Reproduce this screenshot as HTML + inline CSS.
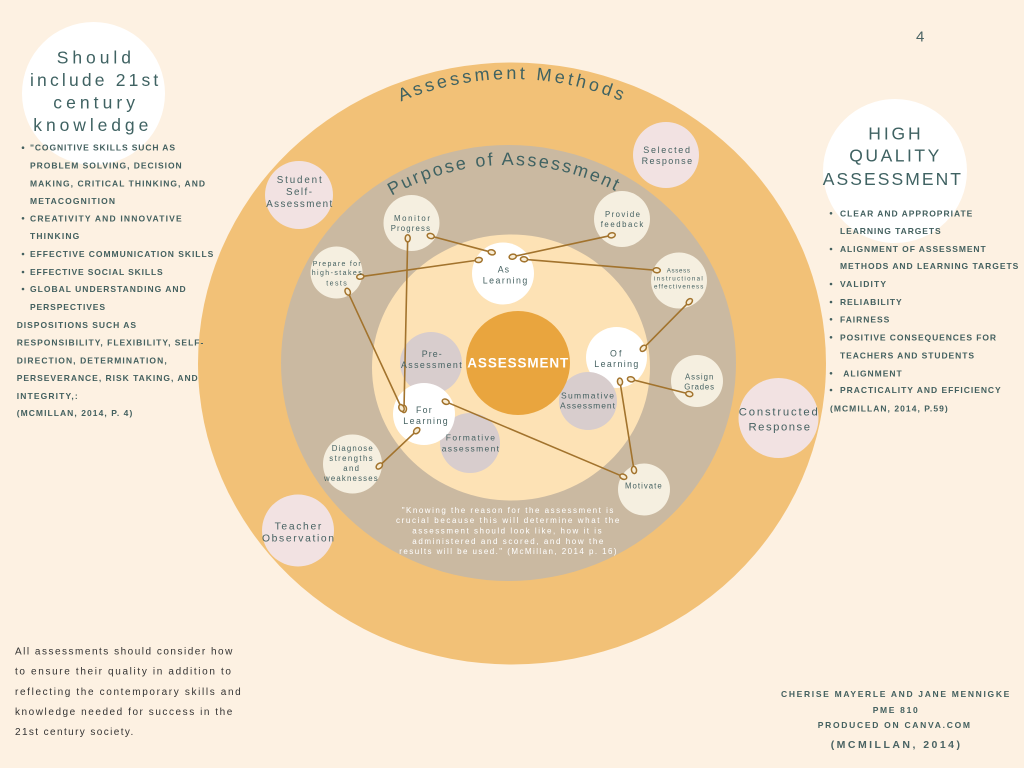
<!DOCTYPE html>
<html>
<head>
<meta charset="utf-8">
<style>
html,body{margin:0;padding:0;background:#fdf1e2;}
svg{display:block;}
text{font-family:"Liberation Sans",sans-serif;}
.l{font-size:8.5px;font-weight:bold;fill:#43605f;}
.n{fill:#466262;}
</style>
</head>
<body>
<svg width="1024" height="768" viewBox="0 0 1024 768" xmlns="http://www.w3.org/2000/svg">
<rect width="1024" height="768" fill="#fdf1e2"/>

<!-- big rings -->
<ellipse cx="512" cy="363.5" rx="314" ry="301" fill="#f2c177"/>
<ellipse cx="508.5" cy="363" rx="227.5" ry="218" fill="#cab9a1"/>
<ellipse cx="511" cy="367.5" rx="139" ry="133" fill="#fde2b5"/>

<!-- header circles -->
<circle cx="93.5" cy="93.5" r="71.5" fill="#ffffff"/>
<circle cx="895" cy="171" r="72" fill="#ffffff"/>

<!-- pink method circles -->
<circle cx="666" cy="155" r="33" fill="#f2e2e2"/>
<circle cx="299" cy="195" r="34" fill="#f2e2e2"/>
<circle cx="298" cy="530.5" r="36" fill="#f2e2e2"/>
<circle cx="778.5" cy="418" r="40" fill="#f2e2e2"/>

<!-- cream purpose circles -->
<circle cx="411.5" cy="223" r="28" fill="#f5efe0"/>
<circle cx="622" cy="219" r="28" fill="#f5efe0"/>
<circle cx="336.5" cy="272.5" r="26" fill="#f5efe0"/>
<circle cx="679" cy="280.5" r="28" fill="#f5efe0"/>
<circle cx="697" cy="381" r="26" fill="#f5efe0"/>
<circle cx="352.5" cy="464" r="29.5" fill="#f5efe0"/>
<circle cx="644" cy="489.5" r="26" fill="#f5efe0"/>

<!-- inner circles -->
<circle cx="431" cy="363" r="31" fill="#d8cdcd"/>
<circle cx="470" cy="443" r="30" fill="#d8cdcd"/>
<circle cx="424" cy="414" r="31" fill="#ffffff"/>
<circle cx="616.5" cy="357.5" r="30.5" fill="#ffffff"/>
<circle cx="588" cy="401" r="29" fill="#d8cdcd"/>
<circle cx="503" cy="273.5" r="31" fill="#ffffff"/>
<circle cx="518" cy="363" r="52" fill="#e9a53e"/>

<!-- connectors -->
<g stroke="#a2732d" stroke-width="1.6" fill="none" stroke-linecap="round">
<line x1="430.7" y1="236" x2="491.7" y2="252.3"/>
<line x1="360.3" y1="276.7" x2="478.7" y2="260"/>
<line x1="611.7" y1="235.3" x2="512.7" y2="256.7"/>
<line x1="656.7" y1="270.3" x2="524" y2="259.3"/>
<line x1="407.7" y1="238.3" x2="404" y2="409"/>
<line x1="347.7" y1="291.7" x2="401.5" y2="408"/>
<line x1="689.3" y1="301.7" x2="643.3" y2="348.3"/>
<line x1="631" y1="379.3" x2="689.3" y2="394"/>
<line x1="620" y1="381.7" x2="634" y2="470"/>
<line x1="445.7" y1="401.7" x2="623.3" y2="476.7"/>
<line x1="416.7" y1="430.7" x2="379.3" y2="466"/>
</g>
<g stroke="#a2732d" stroke-width="1.5" fill="#f8ecd3">
<ellipse cx="430.7" cy="236" rx="3.6" ry="2.5" transform="rotate(15 430.7 236)"/>
<ellipse cx="491.7" cy="252.3" rx="3.6" ry="2.5" transform="rotate(15 491.7 252.3)"/>
<ellipse cx="360.3" cy="276.7" rx="3.6" ry="2.5" transform="rotate(-8 360.3 276.7)"/>
<ellipse cx="478.7" cy="260" rx="3.6" ry="2.5" transform="rotate(-8 478.7 260)"/>
<ellipse cx="611.7" cy="235.3" rx="3.6" ry="2.5" transform="rotate(-12 611.7 235.3)"/>
<ellipse cx="512.7" cy="256.7" rx="3.6" ry="2.5" transform="rotate(-12 512.7 256.7)"/>
<ellipse cx="656.7" cy="270.3" rx="3.6" ry="2.5" transform="rotate(5 656.7 270.3)"/>
<ellipse cx="524" cy="259.3" rx="3.6" ry="2.5" transform="rotate(5 524 259.3)"/>
<ellipse cx="407.7" cy="238.3" rx="3.6" ry="2.5" transform="rotate(91 407.7 238.3)"/>
<ellipse cx="404" cy="409" rx="3.6" ry="2.5" transform="rotate(91 404 409)"/>
<ellipse cx="347.7" cy="291.7" rx="3.6" ry="2.5" transform="rotate(65 347.7 291.7)"/>
<ellipse cx="401.5" cy="408" rx="3.6" ry="2.5" transform="rotate(65 401.5 408)"/>
<ellipse cx="689.3" cy="301.7" rx="3.6" ry="2.5" transform="rotate(-45 689.3 301.7)"/>
<ellipse cx="643.3" cy="348.3" rx="3.6" ry="2.5" transform="rotate(-45 643.3 348.3)"/>
<ellipse cx="631" cy="379.3" rx="3.6" ry="2.5" transform="rotate(14 631 379.3)"/>
<ellipse cx="689.3" cy="394" rx="3.6" ry="2.5" transform="rotate(14 689.3 394)"/>
<ellipse cx="620" cy="381.7" rx="3.6" ry="2.5" transform="rotate(81 620 381.7)"/>
<ellipse cx="634" cy="470" rx="3.6" ry="2.5" transform="rotate(81 634 470)"/>
<ellipse cx="445.7" cy="401.7" rx="3.6" ry="2.5" transform="rotate(23 445.7 401.7)"/>
<ellipse cx="623.3" cy="476.7" rx="3.6" ry="2.5" transform="rotate(23 623.3 476.7)"/>
<ellipse cx="416.7" cy="430.7" rx="3.6" ry="2.5" transform="rotate(-43 416.7 430.7)"/>
<ellipse cx="379.3" cy="466" rx="3.6" ry="2.5" transform="rotate(-43 379.3 466)"/>
</g>

<!-- arc titles -->
<defs>
<path id="arcM" d="M 401 101.6 A 284 284 0 0 1 654 117.05"/>
<path id="arcP" d="M 391.7 195.8 A 235 235 0 0 1 642.8 207.5"/>
</defs>
<text font-size="18" fill="#3f6262"><textPath href="#arcM" textLength="226" lengthAdjust="spacing">Assessment Methods</textPath></text>
<text font-size="18" fill="#3f6262"><textPath href="#arcP" textLength="233" lengthAdjust="spacing">Purpose of Assessment</textPath></text>

<!-- header texts -->
<g font-size="17.5" fill="#3f6262">
<text x="56.7" y="63.3" textLength="74.3" lengthAdjust="spacing">Should</text>
<text x="30" y="86" textLength="128.3" lengthAdjust="spacing">include 21st</text>
<text x="53.3" y="108.5" textLength="81.7" lengthAdjust="spacing">century</text>
<text x="33.3" y="131" textLength="115" lengthAdjust="spacing">knowledge</text>
<text x="868.3" y="139.3" textLength="52.4" lengthAdjust="spacing">HIGH</text>
<text x="849.3" y="161.7" textLength="90" lengthAdjust="spacing">QUALITY</text>
<text x="822.7" y="185" textLength="138.3" lengthAdjust="spacing">ASSESSMENT</text>
</g>
<text x="916" y="41.5" font-size="15" fill="#4a6363">4</text>

<!-- left list -->
<g fill="#43605f">
<circle cx="23" cy="147.7" r="1.3"/><circle cx="23" cy="218.3" r="1.3"/><circle cx="23" cy="254" r="1.3"/><circle cx="23" cy="272" r="1.3"/><circle cx="23" cy="289" r="1.3"/>
</g>
<g class="l">
<text x="30" y="150.7" textLength="145" lengthAdjust="spacing">"COGNITIVE SKILLS SUCH AS</text>
<text x="30" y="168.6" textLength="151.7" lengthAdjust="spacing">PROBLEM SOLVING, DECISION</text>
<text x="30" y="186.3" textLength="175" lengthAdjust="spacing">MAKING, CRITICAL THINKING, AND</text>
<text x="30" y="204" textLength="85" lengthAdjust="spacing">METACOGNITION</text>
<text x="30" y="221.3" textLength="151.7" lengthAdjust="spacing">CREATIVITY AND INNOVATIVE</text>
<text x="30" y="239" textLength="49.3" lengthAdjust="spacing">THINKING</text>
<text x="30" y="257" textLength="183.3" lengthAdjust="spacing">EFFECTIVE COMMUNICATION SKILLS</text>
<text x="30" y="275" textLength="132.7" lengthAdjust="spacing">EFFECTIVE SOCIAL SKILLS</text>
<text x="30" y="292" textLength="155.7" lengthAdjust="spacing">GLOBAL UNDERSTANDING AND</text>
<text x="30" y="310" textLength="75" lengthAdjust="spacing">PERSPECTIVES</text>
<text x="16.7" y="328" textLength="119.3" lengthAdjust="spacing">DISPOSITIONS SUCH AS</text>
<text x="16.7" y="345.7" textLength="186.6" lengthAdjust="spacing">RESPONSIBILITY, FLEXIBILITY, SELF-</text>
<text x="16.7" y="363.7" textLength="150" lengthAdjust="spacing">DIRECTION, DETERMINATION,</text>
<text x="16.7" y="381" textLength="181" lengthAdjust="spacing">PERSEVERANCE, RISK TAKING, AND</text>
<text x="16.7" y="399" textLength="61" lengthAdjust="spacing">INTEGRITY,:</text>
<text x="16.7" y="416" textLength="115.6" lengthAdjust="spacing">(MCMILLAN, 2014, P. 4)</text>
</g>

<!-- right list -->
<g fill="#43605f">
<circle cx="831" cy="213.3" r="1.3"/><circle cx="831" cy="249" r="1.3"/><circle cx="831" cy="284" r="1.3"/><circle cx="831" cy="302" r="1.3"/><circle cx="831" cy="319.3" r="1.3"/><circle cx="831" cy="337.3" r="1.3"/><circle cx="831" cy="373.3" r="1.3"/><circle cx="831" cy="390" r="1.3"/>
</g>
<g class="l">
<text x="840" y="216.3" textLength="132.3" lengthAdjust="spacing">CLEAR AND APPROPRIATE</text>
<text x="840" y="234" textLength="100.7" lengthAdjust="spacing">LEARNING TARGETS</text>
<text x="840" y="252" textLength="145.7" lengthAdjust="spacing">ALIGNMENT OF ASSESSMENT</text>
<text x="840" y="269" textLength="178.3" lengthAdjust="spacing">METHODS AND LEARNING TARGETS</text>
<text x="840" y="287" textLength="46" lengthAdjust="spacing">VALIDITY</text>
<text x="840" y="305" textLength="61.7" lengthAdjust="spacing">RELIABILITY</text>
<text x="840" y="322.3" textLength="49.3" lengthAdjust="spacing">FAIRNESS</text>
<text x="840" y="340.3" textLength="156" lengthAdjust="spacing">POSITIVE CONSEQUENCES FOR</text>
<text x="840" y="358.3" textLength="134" lengthAdjust="spacing">TEACHERS AND STUDENTS</text>
<text x="843.3" y="376.3" textLength="58.4" lengthAdjust="spacing">ALIGNMENT</text>
<text x="840" y="393" textLength="160.7" lengthAdjust="spacing">PRACTICALITY AND EFFICIENCY</text>
<text x="830" y="411.3" textLength="117.7" lengthAdjust="spacing">(MCMILLAN, 2014, P.59)</text>
</g>

<!-- node labels -->
<g class="n">
<text x="497.7" y="272.3" font-size="8.8" textLength="11.3" lengthAdjust="spacing">As</text>
<text x="482.7" y="283.5" font-size="8.8" textLength="44.6" lengthAdjust="spacing">Learning</text>

<text x="394" y="221" font-size="7.8" textLength="36" lengthAdjust="spacing">Monitor</text>
<text x="390.7" y="231" font-size="7.8" textLength="39.3" lengthAdjust="spacing">Progress</text>

<text x="605" y="217" font-size="7.8" textLength="35" lengthAdjust="spacing">Provide</text>
<text x="600.7" y="227" font-size="7.8" textLength="42.6" lengthAdjust="spacing">feedback</text>

<text x="312.7" y="265.8" font-size="7" textLength="48" lengthAdjust="spacing">Prepare for</text>
<text x="311.7" y="275" font-size="7" textLength="50" lengthAdjust="spacing">high-stakes</text>
<text x="326.3" y="285.3" font-size="7" textLength="20.4" lengthAdjust="spacing">tests</text>

<text x="666.7" y="272.3" font-size="6.2" textLength="23.3" lengthAdjust="spacing">Assess</text>
<text x="654" y="280.6" font-size="6.2" textLength="48.7" lengthAdjust="spacing">instructional</text>
<text x="654" y="288.3" font-size="6.2" textLength="49.3" lengthAdjust="spacing">effectiveness</text>

<text x="610" y="356.3" font-size="8.8" textLength="11.5" lengthAdjust="spacing">Of</text>
<text x="594.3" y="367" font-size="8.8" textLength="44" lengthAdjust="spacing">Learning</text>

<text x="421.7" y="357" font-size="8.8" textLength="20" lengthAdjust="spacing">Pre-</text>
<text x="401" y="368" font-size="8.8" textLength="60.7" lengthAdjust="spacing">Assessment</text>

<text x="416" y="413" font-size="8.8" textLength="15.7" lengthAdjust="spacing">For</text>
<text x="403.3" y="424" font-size="8.8" textLength="44.4" lengthAdjust="spacing">Learning</text>

<text x="561" y="398.3" font-size="8.5" textLength="53" lengthAdjust="spacing">Summative</text>
<text x="560" y="408.7" font-size="8.5" textLength="55" lengthAdjust="spacing">Assessment</text>

<text x="685" y="379.5" font-size="7.8" textLength="28.3" lengthAdjust="spacing">Assign</text>
<text x="684.3" y="389.5" font-size="7.8" textLength="29.7" lengthAdjust="spacing">Grades</text>

<text x="445.7" y="440.3" font-size="8.5" textLength="49.3" lengthAdjust="spacing">Formative</text>
<text x="441.7" y="451.3" font-size="8.5" textLength="57.3" lengthAdjust="spacing">assessment</text>

<text x="331.7" y="451" font-size="7.8" textLength="41" lengthAdjust="spacing">Diagnose</text>
<text x="329.3" y="461" font-size="7.8" textLength="43.3" lengthAdjust="spacing">strengths</text>
<text x="343.3" y="471" font-size="7.8" textLength="15.7" lengthAdjust="spacing">and</text>
<text x="324" y="481" font-size="7.8" textLength="53.7" lengthAdjust="spacing">weaknesses</text>

<text x="625" y="488.5" font-size="7.8" textLength="36.7" lengthAdjust="spacing">Motivate</text>

<text x="643.3" y="153.2" font-size="9" textLength="46.7" lengthAdjust="spacing">Selected</text>
<text x="641.6" y="164.2" font-size="9" textLength="50.5" lengthAdjust="spacing">Response</text>

<text x="276.7" y="183" font-size="9.8" textLength="45" lengthAdjust="spacing">Student</text>
<text x="286" y="195" font-size="9.8" textLength="26" lengthAdjust="spacing">Self-</text>
<text x="266.2" y="207" font-size="9.8" textLength="66" lengthAdjust="spacing">Assessment</text>

<text x="274.6" y="529.3" font-size="10.3" textLength="46.7" lengthAdjust="spacing">Teacher</text>
<text x="262" y="541.3" font-size="10.3" textLength="72" lengthAdjust="spacing">Observation</text>

<text x="738.8" y="415.3" font-size="11.3" textLength="79" lengthAdjust="spacing">Constructed</text>
<text x="748.5" y="430.3" font-size="11.3" textLength="61.5" lengthAdjust="spacing">Response</text>
</g>

<text x="467.3" y="367.5" font-size="13.5" font-weight="bold" fill="#ffffff" textLength="101" lengthAdjust="spacing">ASSESSMENT</text>

<!-- quote -->
<g font-size="8" fill="#ffffff">
<text x="401.7" y="512.8" textLength="211.7" lengthAdjust="spacing">"Knowing the reason for the assessment is</text>
<text x="396" y="523" textLength="223.3" lengthAdjust="spacing">crucial because this will determine what the</text>
<text x="412.3" y="533.5" textLength="189.3" lengthAdjust="spacing">assessment should look like, how it is</text>
<text x="412.3" y="544" textLength="191" lengthAdjust="spacing">administered and scored, and how the</text>
<text x="399.3" y="554" textLength="217.3" lengthAdjust="spacing">results will be used."  (McMillan, 2014 p. 16)</text>
</g>

<!-- bottom left paragraph -->
<g font-size="10" fill="#333333">
<text x="15" y="654.5" textLength="217.3" lengthAdjust="spacing">All assessments should consider how</text>
<text x="15" y="674.5" textLength="216" lengthAdjust="spacing">to ensure their quality in addition to</text>
<text x="15" y="695" textLength="225.7" lengthAdjust="spacing">reflecting the contemporary skills and</text>
<text x="15" y="715" textLength="217.3" lengthAdjust="spacing">knowledge needed for success in the</text>
<text x="15" y="735" textLength="118.3" lengthAdjust="spacing">21st century society.</text>
</g>

<!-- bottom right credits -->
<g class="l" fill="#4a6363">
<text x="781" y="697" textLength="228.3" lengthAdjust="spacing">CHERISE MAYERLE AND JANE MENNIGKE</text>
<text x="872.7" y="713" textLength="45" lengthAdjust="spacing">PME 810</text>
<text x="817.7" y="728" textLength="152.3" lengthAdjust="spacing">PRODUCED ON CANVA.COM</text>
</g>
<text x="830.7" y="748" font-size="10.5" font-weight="bold" fill="#4a6363" textLength="129.3" lengthAdjust="spacing">(MCMILLAN, 2014)</text>
</svg>
</body>
</html>
